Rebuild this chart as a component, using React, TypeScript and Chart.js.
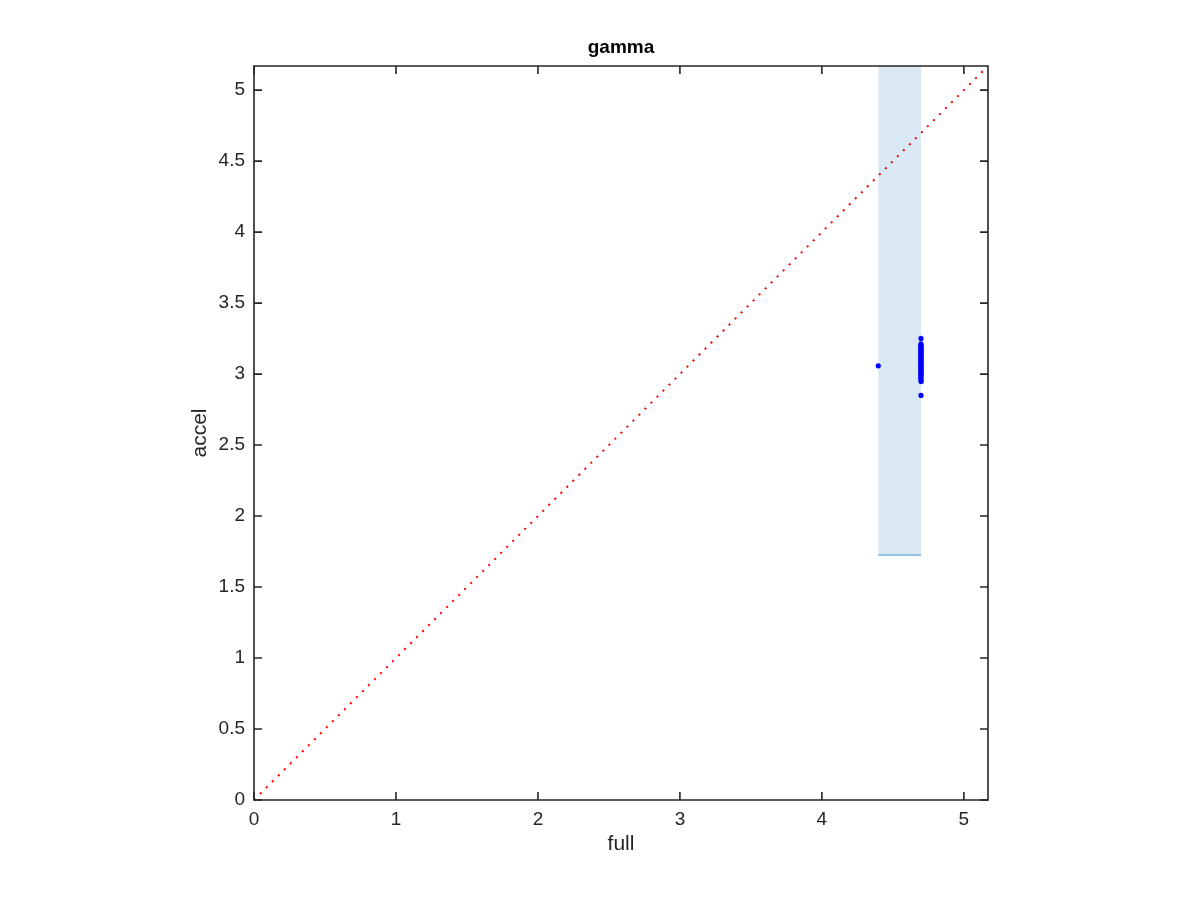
import React, { useEffect, useRef } from 'react';
import { Chart, registerables } from 'chart.js';

Chart.register(...registerables);

const titleText = 'gamma';
const xLabel = 'full';
const yLabel = 'accel';
const axisMin = 0;
const axisMax = 5.17;
const xTickValues = [0, 1, 2, 3, 4, 5];
const yTickValues = [0, 0.5, 1, 1.5, 2, 2.5, 3, 3.5, 4, 4.5, 5];

const fullValues = [
  4.397, 4.698, 4.698, 4.697, 4.698, 4.699, 4.698, 4.697, 4.698, 4.699,
  4.698, 4.697, 4.698, 4.698, 4.699, 4.697, 4.698, 4.698, 4.697, 4.699,
  4.698, 4.698, 4.697, 4.698, 4.699, 4.698, 4.697, 4.698, 4.698, 4.699,
  4.698, 4.697, 4.698, 4.698, 4.699, 4.698,
];
const accelValues = [
  3.058, 3.251, 3.213, 3.204, 3.196, 3.188, 3.181, 3.172, 3.166, 3.157,
  3.149, 3.141, 3.133, 3.126, 3.118, 3.109, 3.101, 3.094, 3.086, 3.077,
  3.069, 3.061, 3.054, 3.046, 3.038, 3.029, 3.021, 3.013, 3.006, 2.998,
  2.989, 2.979, 2.968, 2.958, 2.947, 2.850,
];

const bandFull = [4.397, 4.698];
const bandAccel = [1.725, 1.725];

const diagFull = [0, 5.17];
const diagAccel = [0, 5.17];

const FONT = '"Liberation Sans", Arial, Helvetica, sans-serif';
const AXIS_COLOR = '#262626';

const matlabAxes = {
  id: 'matlabAxes',
  afterDraw(chart: any) {
    const { ctx, chartArea } = chart;
    const { left, right, top, bottom } = chartArea;
    const xs = chart.scales.x;
    const ys = chart.scales.y;
    ctx.save();
    ctx.strokeStyle = AXIS_COLOR;
    ctx.lineWidth = 1.6;
    ctx.beginPath();
    ctx.rect(left, top, right - left, bottom - top);
    ctx.stroke();
    const tl = 8;
    ctx.beginPath();
    xTickValues.forEach((v) => {
      const px = xs.getPixelForValue(v);
      ctx.moveTo(px, bottom);
      ctx.lineTo(px, bottom - tl);
      ctx.moveTo(px, top);
      ctx.lineTo(px, top + tl);
    });
    yTickValues.forEach((v) => {
      const py = ys.getPixelForValue(v);
      ctx.moveTo(left, py);
      ctx.lineTo(left + tl, py);
      ctx.moveTo(right, py);
      ctx.lineTo(right - tl, py);
    });
    ctx.stroke();

    ctx.fillStyle = '#000000';
    ctx.textAlign = 'center';
    ctx.textBaseline = 'middle';
    ctx.font = `bold 19px ${FONT}`;
    ctx.fillText(titleText, (left + right) / 2, 48);

    ctx.fillStyle = AXIS_COLOR;
    ctx.font = `21px ${FONT}`;
    ctx.fillText(xLabel, (left + right) / 2, 844);

    ctx.translate(200, (top + bottom) / 2);
    ctx.rotate(-Math.PI / 2);
    ctx.fillText(yLabel, 0, 0);
    ctx.restore();
  },
};

export default function App() {
  const canvasRef = useRef<HTMLCanvasElement | null>(null);

  useEffect(() => {
    if (!canvasRef.current) return;
    const points = fullValues.map((x, i) => ({ x, y: accelValues[i] }));
    const band = bandFull.map((x, i) => ({ x, y: bandAccel[i] }));
    const diag = diagFull.map((x, i) => ({ x, y: diagAccel[i] }));

    const chart = new Chart(canvasRef.current, {
      type: 'scatter',
      data: {
        datasets: [
          {
            type: 'scatter',
            data: points,
            pointRadius: 2.6,
            pointBorderWidth: 0,
            backgroundColor: '#0000ff',
            borderColor: '#0000ff',
            order: 0,
          } as any,
          {
            type: 'line',
            data: diag,
            borderColor: '#ff0000',
            borderWidth: 2,
            borderDash: [2, 6.5],
            pointRadius: 0,
            fill: false,
            order: 1,
          } as any,
          {
            type: 'line',
            data: band,
            borderColor: '#94c2e2',
            borderWidth: 2,
            backgroundColor: '#d9e8f3',
            pointRadius: 0,
            fill: 'end',
            order: 2,
          } as any,
        ],
      },
      options: {
        animation: false,
        responsive: false,
        events: [],
        layout: { padding: { left: 0, top: 66, right: 212, bottom: 0 } },
        plugins: {
          legend: { display: false },
          tooltip: { enabled: false },
          title: { display: false },
        },
        scales: {
          x: {
            type: 'linear',
            min: axisMin,
            max: axisMax,
            grid: { display: false },
            border: { display: false },
            afterBuildTicks: (scale: any) => {
              scale.ticks = xTickValues.map((v) => ({ value: v }));
            },
            afterFit: (scale: any) => {
              scale.height = 100;
            },
            ticks: {
              padding: 0,
              color: AXIS_COLOR,
              font: { family: FONT, size: 19 },
              maxRotation: 0,
              callback: (v: any) => String(v),
            },
          },
          y: {
            type: 'linear',
            min: axisMin,
            max: axisMax,
            grid: { display: false },
            border: { display: false },
            afterBuildTicks: (scale: any) => {
              scale.ticks = yTickValues.map((v) => ({ value: v }));
            },
            afterFit: (scale: any) => {
              scale.width = 254;
            },
            ticks: {
              padding: 1,
              color: AXIS_COLOR,
              font: { family: FONT, size: 19 },
              callback: (v: any) => String(v),
            },
          },
        },
      },
      plugins: [matlabAxes],
    });
    return () => chart.destroy();
  }, []);

  return (
    <div style={{ position: 'absolute', left: 0, top: 0, width: 1200, height: 900, background: '#ffffff' }}>
      <canvas ref={canvasRef} width={1200} height={900} style={{ width: 1200, height: 900 }} />
    </div>
  );
}
